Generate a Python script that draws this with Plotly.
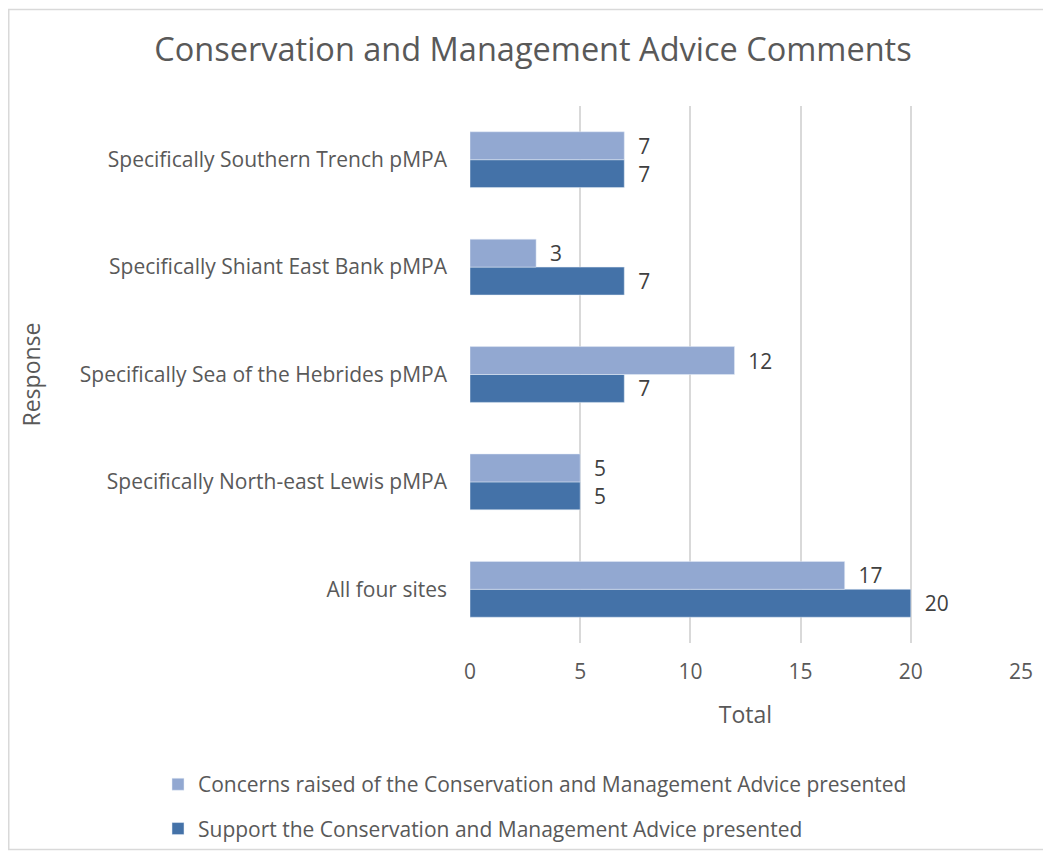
import plotly.graph_objects as go

categories = ["All four sites", "Specifically North-east Lewis pMPA",
              "Specifically Sea of the Hebrides pMPA", "Specifically Shiant East Bank pMPA",
              "Specifically Southern Trench pMPA"]
concerns = [17, 5, 12, 3, 7]
support = [20, 5, 7, 7, 7]
x_ticks = [0, 5, 10, 15, 20, 25]

font_family = "Open Sans, Noto Sans, sans-serif"
grey = "#595959"

W, H = 1043, 853
L, R, T, B = 462, 30, 98, 214
PW, PH = W - L - R, H - T - B


def xp(px):
    return (px - L) / PW


def yp(py):
    return (H - B - py) / PH


fig = go.Figure()
fig.add_trace(go.Bar(
    y=categories, x=support, orientation="h",
    name="Support the Conservation and Management Advice presented",
    marker=dict(color="#4472A8"), text=support, texttemplate="  %{x}",
    textposition="outside",
    textfont=dict(size=21, color="#404040"), cliponaxis=False,
    legendgroup="b", legendrank=2))
fig.add_trace(go.Bar(
    y=categories, x=concerns, orientation="h",
    name="Concerns raised of the Conservation and Management Advice presented",
    marker=dict(color="#92A8D1"), text=concerns, texttemplate="  %{x}",
    textposition="outside",
    textfont=dict(size=21, color="#404040"), cliponaxis=False,
    legendgroup="a", legendrank=1))

fig.update_layout(
    width=W, height=H,
    margin=dict(l=L, r=R, t=T, b=B),
    paper_bgcolor="white", plot_bgcolor="white",
    barmode="group", bargap=0.48, bargroupgap=0,
    font=dict(family=font_family, color=grey, size=21),
    title=dict(text="Conservation and Management Advice Comments",
               x=525 / W, xanchor="center", xref="container",
               y=1 - 42 / H, yanchor="middle", yref="container",
               font=dict(size=32.5, color=grey)),
    xaxis=dict(range=[0, 25], tickvals=x_ticks, showgrid=True, gridcolor="#D9D9D9",
               gridwidth=1.5, zeroline=False, showline=False, ticks="",
               tickfont=dict(size=21, color=grey), ticklabelstandoff=14,
               title=dict(text="Total", font=dict(size=23, color=grey), standoff=22)),
    yaxis=dict(showgrid=False, showline=False, ticks="", ticklabelstandoff=22,
               tickfont=dict(size=21, color=grey)),
    legend=dict(orientation="v", x=xp(150), xanchor="left", y=yp(761), yanchor="top",
                traceorder="grouped", tracegroupgap=14,
                font=dict(size=21, color=grey), bgcolor="rgba(0,0,0,0)"),
    showlegend=True,
)

fig.add_annotation(text="Response", xref="paper", yref="paper",
                   x=xp(22), y=0.5, xanchor="center", yanchor="middle",
                   textangle=-90, showarrow=False, font=dict(size=23, color=grey))

fig.add_shape(type="rect", xref="paper", yref="paper",
              x0=xp(0.75), x1=xp(1038),
              y0=yp(847), y1=yp(0.75),
              line=dict(color="#D9D9D9", width=1.5), fillcolor="rgba(0,0,0,0)", layer="below")

fig.write_html("out.html")
